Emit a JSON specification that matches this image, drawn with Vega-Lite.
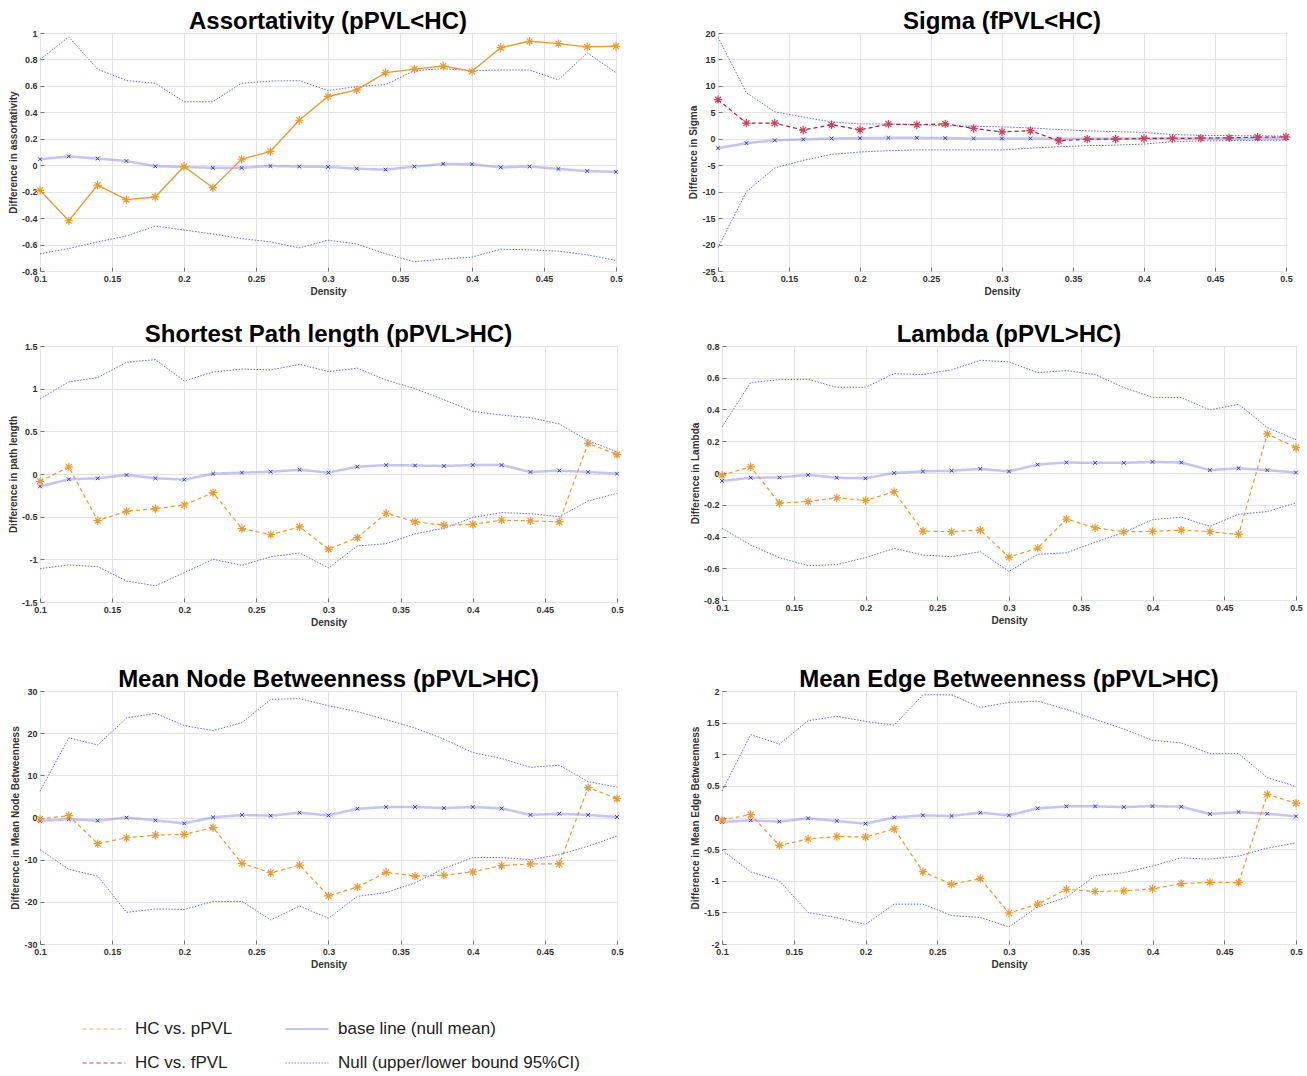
{
"$schema": "https://vega.github.io/schema/vega-lite/v6.json",
"padding": {"left": 7, "top": 9, "right": 5, "bottom": 5},
"background": "white",
"datasets": {"d": [
{"p":"A","d":0.1,"hc":-0.19,"b":0.045,"u":0.8,"l":-0.67},
{"p":"A","d":0.12,"hc":-0.42,"b":0.067,"u":0.97,"l":-0.63},
{"p":"A","d":0.14,"hc":-0.15,"b":0.05,"u":0.727,"l":-0.58},
{"p":"A","d":0.16,"hc":-0.26,"b":0.032,"u":0.64,"l":-0.535},
{"p":"A","d":0.18,"hc":-0.24,"b":-0.008,"u":0.62,"l":-0.46},
{"p":"A","d":0.2,"hc":-0.01,"b":-0.013,"u":0.48,"l":-0.49},
{"p":"A","d":0.22,"hc":-0.17,"b":-0.02,"u":0.48,"l":-0.52},
{"p":"A","d":0.24,"hc":0.045,"b":-0.02,"u":0.62,"l":-0.555},
{"p":"A","d":0.26,"hc":0.105,"b":-0.006,"u":0.636,"l":-0.58},
{"p":"A","d":0.28,"hc":0.34,"b":-0.01,"u":0.64,"l":-0.625},
{"p":"A","d":0.3,"hc":0.52,"b":-0.013,"u":0.565,"l":-0.567},
{"p":"A","d":0.32,"hc":0.57,"b":-0.026,"u":0.595,"l":-0.595},
{"p":"A","d":0.34,"hc":0.7,"b":-0.034,"u":0.61,"l":-0.67},
{"p":"A","d":0.36,"hc":0.727,"b":-0.01,"u":0.715,"l":-0.73},
{"p":"A","d":0.38,"hc":0.75,"b":0.01,"u":0.73,"l":-0.71},
{"p":"A","d":0.4,"hc":0.71,"b":0.007,"u":0.715,"l":-0.695},
{"p":"A","d":0.42,"hc":0.89,"b":-0.016,"u":0.72,"l":-0.635},
{"p":"A","d":0.44,"hc":0.937,"b":-0.01,"u":0.72,"l":-0.64},
{"p":"A","d":0.46,"hc":0.92,"b":-0.028,"u":0.646,"l":-0.65},
{"p":"A","d":0.48,"hc":0.895,"b":-0.044,"u":0.85,"l":-0.678},
{"p":"A","d":0.5,"hc":0.9,"b":-0.05,"u":0.7,"l":-0.72},
{"p":"S","d":0.1,"hc":7.4,"b":-1.77,"u":19.2,"l":-20.6},
{"p":"S","d":0.12,"hc":2.95,"b":-0.83,"u":8.7,"l":-10},
{"p":"S","d":0.14,"hc":2.95,"b":-0.3,"u":5.1,"l":-5.5},
{"p":"S","d":0.16,"hc":1.65,"b":-0.12,"u":4.1,"l":-4.1},
{"p":"S","d":0.18,"hc":2.65,"b":0.06,"u":3.2,"l":-2.95},
{"p":"S","d":0.2,"hc":1.7,"b":0.12,"u":2.8,"l":-2.5},
{"p":"S","d":0.22,"hc":2.77,"b":0.18,"u":2.8,"l":-2.25},
{"p":"S","d":0.24,"hc":2.65,"b":0.18,"u":2.65,"l":-2.1},
{"p":"S","d":0.26,"hc":2.83,"b":0.12,"u":2.5,"l":-2.1},
{"p":"S","d":0.28,"hc":1.95,"b":0.06,"u":2.35,"l":-2.1},
{"p":"S","d":0.3,"hc":1.3,"b":0.06,"u":2.25,"l":-2.1},
{"p":"S","d":0.32,"hc":1.53,"b":0.06,"u":2.05,"l":-1.77},
{"p":"S","d":0.34,"hc":-0.4,"b":0,"u":1.75,"l":-1.5},
{"p":"S","d":0.36,"hc":-0.06,"b":0.05,"u":1.5,"l":-1.3},
{"p":"S","d":0.38,"hc":-0.06,"b":0.05,"u":1.35,"l":-1.2},
{"p":"S","d":0.4,"hc":0.06,"b":0.05,"u":1.2,"l":-1.0},
{"p":"S","d":0.42,"hc":0.06,"b":0.05,"u":0.8,"l":-0.55},
{"p":"S","d":0.44,"hc":0.12,"b":0.05,"u":0.65,"l":-0.4},
{"p":"S","d":0.46,"hc":0.18,"b":0.05,"u":0.6,"l":-0.35},
{"p":"S","d":0.48,"hc":0.3,"b":0.1,"u":0.55,"l":-0.3},
{"p":"S","d":0.5,"hc":0.35,"b":0.1,"u":0.5,"l":-0.25},
{"p":"P","d":0.1,"hc":-0.086,"b":-0.145,"u":0.88,"l":-1.11},
{"p":"P","d":0.12,"hc":0.082,"b":-0.062,"u":1.08,"l":-1.066},
{"p":"P","d":0.14,"hc":-0.547,"b":-0.05,"u":1.13,"l":-1.086},
{"p":"P","d":0.16,"hc":-0.437,"b":-0.012,"u":1.31,"l":-1.254},
{"p":"P","d":0.18,"hc":-0.406,"b":-0.05,"u":1.34,"l":-1.31},
{"p":"P","d":0.2,"hc":-0.363,"b":-0.066,"u":1.09,"l":-1.156},
{"p":"P","d":0.22,"hc":-0.219,"b":0.004,"u":1.195,"l":-1.0},
{"p":"P","d":0.24,"hc":-0.64,"b":0.016,"u":1.23,"l":-1.07},
{"p":"P","d":0.26,"hc":-0.71,"b":0.027,"u":1.22,"l":-0.97},
{"p":"P","d":0.28,"hc":-0.62,"b":0.05,"u":1.285,"l":-0.926},
{"p":"P","d":0.3,"hc":-0.88,"b":0.016,"u":1.2,"l":-1.1},
{"p":"P","d":0.32,"hc":-0.746,"b":0.086,"u":1.24,"l":-0.844},
{"p":"P","d":0.34,"hc":-0.46,"b":0.105,"u":1.1,"l":-0.816},
{"p":"P","d":0.36,"hc":-0.56,"b":0.1,"u":1.0,"l":-0.7},
{"p":"P","d":0.38,"hc":-0.6,"b":0.094,"u":0.87,"l":-0.637},
{"p":"P","d":0.4,"hc":-0.59,"b":0.105,"u":0.734,"l":-0.51},
{"p":"P","d":0.42,"hc":-0.54,"b":0.105,"u":0.69,"l":-0.453},
{"p":"P","d":0.44,"hc":-0.55,"b":0.023,"u":0.66,"l":-0.465},
{"p":"P","d":0.46,"hc":-0.56,"b":0.04,"u":0.586,"l":-0.5},
{"p":"P","d":0.48,"hc":0.36,"b":0.023,"u":0.39,"l":-0.316},
{"p":"P","d":0.5,"hc":0.227,"b":0.004,"u":0.26,"l":-0.227},
{"p":"L","d":0.1,"hc":-0.014,"b":-0.05,"u":0.29,"l":-0.347},
{"p":"L","d":0.12,"hc":0.039,"b":-0.03,"u":0.57,"l":-0.454},
{"p":"L","d":0.14,"hc":-0.19,"b":-0.028,"u":0.588,"l":-0.533},
{"p":"L","d":0.16,"hc":-0.18,"b":-0.012,"u":0.59,"l":-0.584},
{"p":"L","d":0.18,"hc":-0.156,"b":-0.03,"u":0.54,"l":-0.577},
{"p":"L","d":0.2,"hc":-0.173,"b":-0.033,"u":0.54,"l":-0.533},
{"p":"L","d":0.22,"hc":-0.118,"b":0,"u":0.626,"l":-0.475},
{"p":"L","d":0.24,"hc":-0.366,"b":0.01,"u":0.62,"l":-0.517},
{"p":"L","d":0.26,"hc":-0.37,"b":0.014,"u":0.65,"l":-0.527},
{"p":"L","d":0.28,"hc":-0.36,"b":0.026,"u":0.71,"l":-0.496},
{"p":"L","d":0.3,"hc":-0.53,"b":0.01,"u":0.7,"l":-0.62},
{"p":"L","d":0.32,"hc":-0.473,"b":0.053,"u":0.632,"l":-0.512},
{"p":"L","d":0.34,"hc":-0.29,"b":0.066,"u":0.645,"l":-0.503},
{"p":"L","d":0.36,"hc":-0.345,"b":0.064,"u":0.62,"l":-0.437},
{"p":"L","d":0.38,"hc":-0.37,"b":0.064,"u":0.538,"l":-0.374},
{"p":"L","d":0.4,"hc":-0.368,"b":0.07,"u":0.477,"l":-0.294},
{"p":"L","d":0.42,"hc":-0.36,"b":0.066,"u":0.475,"l":-0.278},
{"p":"L","d":0.44,"hc":-0.37,"b":0.018,"u":0.397,"l":-0.336},
{"p":"L","d":0.46,"hc":-0.387,"b":0.03,"u":0.433,"l":-0.26},
{"p":"L","d":0.48,"hc":0.246,"b":0.018,"u":0.286,"l":-0.243},
{"p":"L","d":0.5,"hc":0.16,"b":0.003,"u":0.21,"l":-0.188},
{"p":"N","d":0.1,"hc":-0.35,"b":-0.8,"u":6.2,"l":-7.6},
{"p":"N","d":0.12,"hc":0.43,"b":-0.4,"u":18.9,"l":-12.3},
{"p":"N","d":0.14,"hc":-6.2,"b":-0.75,"u":17.2,"l":-13.9},
{"p":"N","d":0.16,"hc":-4.8,"b":-0.04,"u":23.6,"l":-22.5},
{"p":"N","d":0.18,"hc":-4.2,"b":-0.67,"u":24.7,"l":-21.7},
{"p":"N","d":0.2,"hc":-4.0,"b":-1.4,"u":21.8,"l":-21.8},
{"p":"N","d":0.22,"hc":-2.4,"b":0.04,"u":20.6,"l":-19.9},
{"p":"N","d":0.24,"hc":-10.9,"b":0.6,"u":22.5,"l":-19.9},
{"p":"N","d":0.26,"hc":-13.1,"b":0.43,"u":28.0,"l":-24.3},
{"p":"N","d":0.28,"hc":-11.3,"b":1.14,"u":28.2,"l":-21.0},
{"p":"N","d":0.3,"hc":-18.6,"b":0.5,"u":26.5,"l":-23.9},
{"p":"N","d":0.32,"hc":-16.5,"b":2.08,"u":25.1,"l":-18.7},
{"p":"N","d":0.34,"hc":-13.0,"b":2.48,"u":23.2,"l":-17.8},
{"p":"N","d":0.36,"hc":-13.9,"b":2.48,"u":21.2,"l":-15.5},
{"p":"N","d":0.38,"hc":-13.7,"b":2.24,"u":18.6,"l":-12.1},
{"p":"N","d":0.4,"hc":-12.9,"b":2.48,"u":15.4,"l":-9.5},
{"p":"N","d":0.42,"hc":-11.4,"b":2.16,"u":14.0,"l":-9.5},
{"p":"N","d":0.44,"hc":-11.0,"b":0.6,"u":11.9,"l":-10.0},
{"p":"N","d":0.46,"hc":-11.0,"b":0.9,"u":12.4,"l":-8.8},
{"p":"N","d":0.48,"hc":7.1,"b":0.6,"u":8.5,"l":-6.8},
{"p":"N","d":0.5,"hc":4.5,"b":0.12,"u":7.2,"l":-4.4},
{"p":"E","d":0.1,"hc":-0.04,"b":-0.07,"u":0.42,"l":-0.516},
{"p":"E","d":0.12,"hc":0.045,"b":-0.045,"u":1.31,"l":-0.86},
{"p":"E","d":0.14,"hc":-0.44,"b":-0.065,"u":1.16,"l":-1.0},
{"p":"E","d":0.16,"hc":-0.34,"b":-0.013,"u":1.53,"l":-1.5},
{"p":"E","d":0.18,"hc":-0.3,"b":-0.055,"u":1.6,"l":-1.585},
{"p":"E","d":0.2,"hc":-0.31,"b":-0.097,"u":1.52,"l":-1.69},
{"p":"E","d":0.22,"hc":-0.18,"b":0,"u":1.46,"l":-1.37},
{"p":"E","d":0.24,"hc":-0.857,"b":0.034,"u":1.94,"l":-1.37},
{"p":"E","d":0.26,"hc":-1.056,"b":0.024,"u":1.94,"l":-1.55},
{"p":"E","d":0.28,"hc":-0.967,"b":0.076,"u":1.74,"l":-1.58},
{"p":"E","d":0.3,"hc":-1.51,"b":0.034,"u":1.82,"l":-1.73},
{"p":"E","d":0.32,"hc":-1.37,"b":0.144,"u":1.84,"l":-1.41},
{"p":"E","d":0.34,"hc":-1.135,"b":0.176,"u":1.71,"l":-1.265},
{"p":"E","d":0.36,"hc":-1.17,"b":0.176,"u":1.55,"l":-0.92},
{"p":"E","d":0.38,"hc":-1.16,"b":0.165,"u":1.4,"l":-0.873},
{"p":"E","d":0.4,"hc":-1.13,"b":0.18,"u":1.22,"l":-0.768},
{"p":"E","d":0.42,"hc":-1.045,"b":0.17,"u":1.18,"l":-0.637},
{"p":"E","d":0.44,"hc":-1.025,"b":0.055,"u":1.01,"l":-0.658},
{"p":"E","d":0.46,"hc":-1.03,"b":0.086,"u":1.01,"l":-0.61},
{"p":"E","d":0.48,"hc":0.364,"b":0.06,"u":0.63,"l":-0.485},
{"p":"E","d":0.5,"hc":0.228,"b":0.018,"u":0.49,"l":-0.4}
]},
"vconcat": [
{"vconcat": [
{"hconcat": [
{"title": {"text": "Assortativity (pPVL<HC)", "offset": -5},
 "width": 576, "height": 238,
 "data": {"name": "d"}, "transform": [{"filter": "datum.p == 'A'"}],
 "encoding": {"x": {"field": "d", "type": "quantitative", "scale": {"domain": [0.1, 0.5], "nice": false}, "axis": {"title": "Density", "values": [0.1,0.15,0.2,0.25,0.3,0.35,0.4,0.45,0.5], "format": ".2~f", "labelOverlap": false, "tickCount": 30}}},
 "layer": [
  {"mark": {"type": "line", "strokeWidth": 1}, "encoding": {
    "y": {"field": "u", "type": "quantitative", "scale": {"domain": [-0.8, 1], "nice": false}, "axis": {"title": "Difference in assortativity", "values": [-0.8,-0.6,-0.4,-0.2,0,0.2,0.4,0.6,0.8,1], "format": ".2~f", "labelOverlap": false, "tickCount": 30}},
    "color": {"datum": "Null (upper/lower bound 95%CI)", "scale": {"domain": ["HC vs. pPVL","base line (null mean)","HC vs. fPVL","Null (upper/lower bound 95%CI)"], "range": ["#EE9A2E","#6B6BF2","#A3223E","#6B6BF2"]}, "legend": {"orient": "none", "direction": "horizontal", "legendX": 41, "legendY": 973, "columns": 2, "columnPadding": 48, "rowPadding": 3, "symbolOpacity": 1, "labelLimit": 0, "title": null}},
    "strokeDash": {"datum": "Null (upper/lower bound 95%CI)", "scale": {"domain": ["HC vs. pPVL","base line (null mean)","HC vs. fPVL","Null (upper/lower bound 95%CI)"], "range": [[4,3],[1,0],[4,3],[1.5,1.5]]}, "legend": {"orient": "none", "direction": "horizontal", "legendX": 41, "legendY": 973, "columns": 2, "columnPadding": 48, "rowPadding": 3, "symbolOpacity": 1, "labelLimit": 0, "title": null}}}},
  {"mark": {"type": "line", "strokeWidth": 1}, "encoding": {"y": {"field": "l", "type": "quantitative"},
    "color": {"datum": "Null (upper/lower bound 95%CI)", "scale": {"domain": ["HC vs. pPVL","base line (null mean)","HC vs. fPVL","Null (upper/lower bound 95%CI)"], "range": ["#EE9A2E","#6B6BF2","#A3223E","#6B6BF2"]}},
    "strokeDash": {"datum": "Null (upper/lower bound 95%CI)", "scale": {"domain": ["HC vs. pPVL","base line (null mean)","HC vs. fPVL","Null (upper/lower bound 95%CI)"], "range": [[4,3],[1,0],[4,3],[1.5,1.5]]}}}},
  {"mark": {"type": "line", "strokeWidth": 2.5, "opacity": 0.4}, "encoding": {"y": {"field": "b", "type": "quantitative"},
    "color": {"datum": "base line (null mean)", "scale": {"domain": ["HC vs. pPVL","base line (null mean)","HC vs. fPVL","Null (upper/lower bound 95%CI)"], "range": ["#EE9A2E","#6B6BF2","#A3223E","#6B6BF2"]}},
    "strokeDash": {"datum": "base line (null mean)", "scale": {"domain": ["HC vs. pPVL","base line (null mean)","HC vs. fPVL","Null (upper/lower bound 95%CI)"], "range": [[4,3],[1,0],[4,3],[1.5,1.5]]}}}},
  {"mark": {"type": "point", "shape": "M-1,-1L1,1M-1,1L1,-1", "filled": false, "size": 14, "strokeWidth": 1, "color": "#3A3AD0", "opacity": 1}, "encoding": {"y": {"field": "b", "type": "quantitative"}}},
  {"mark": {"type": "line", "strokeWidth": 1.4}, "encoding": {"y": {"field": "hc", "type": "quantitative"},
    "color": {"datum": "HC vs. pPVL", "scale": {"domain": ["HC vs. pPVL","base line (null mean)","HC vs. fPVL","Null (upper/lower bound 95%CI)"], "range": ["#EE9A2E","#6B6BF2","#A3223E","#6B6BF2"]}}}},
  {"mark": {"type": "point", "shape": "M-1,0L1,0M0,-1L0,1M-0.7,-0.7L0.7,0.7M-0.7,0.7L0.7,-0.7", "filled": false, "size": 70, "strokeWidth": 1.2, "color": "#EE9A2E", "opacity": 1}, "encoding": {"y": {"field": "hc", "type": "quantitative"}}}
 ]},
{"title": {"text": "Sigma (fPVL<HC)", "offset": -5},
 "width": 568, "height": 238,
 "data": {"name": "d"}, "transform": [{"filter": "datum.p == 'S'"}],
 "encoding": {"x": {"field": "d", "type": "quantitative", "scale": {"domain": [0.1, 0.5], "nice": false}, "axis": {"title": "Density", "values": [0.1,0.15,0.2,0.25,0.3,0.35,0.4,0.45,0.5], "format": ".2~f", "labelOverlap": false, "tickCount": 30}}},
 "layer": [
  {"mark": {"type": "line", "strokeWidth": 1}, "encoding": {
    "y": {"field": "u", "type": "quantitative", "scale": {"domain": [-25, 20], "nice": false}, "axis": {"title": "Difference in Sigma", "values": [-25,-20,-15,-10,-5,0,5,10,15,20], "format": ".2~f", "labelOverlap": false, "tickCount": 30}},
    "color": {"datum": "Null (upper/lower bound 95%CI)", "scale": {"domain": ["HC vs. pPVL","base line (null mean)","HC vs. fPVL","Null (upper/lower bound 95%CI)"], "range": ["#EE9A2E","#6B6BF2","#A3223E","#6B6BF2"]}},
    "strokeDash": {"datum": "Null (upper/lower bound 95%CI)", "scale": {"domain": ["HC vs. pPVL","base line (null mean)","HC vs. fPVL","Null (upper/lower bound 95%CI)"], "range": [[4,3],[1,0],[4,3],[1.5,1.5]]}}}},
  {"mark": {"type": "line", "strokeWidth": 1}, "encoding": {"y": {"field": "l", "type": "quantitative"},
    "color": {"datum": "Null (upper/lower bound 95%CI)", "scale": {"domain": ["HC vs. pPVL","base line (null mean)","HC vs. fPVL","Null (upper/lower bound 95%CI)"], "range": ["#EE9A2E","#6B6BF2","#A3223E","#6B6BF2"]}},
    "strokeDash": {"datum": "Null (upper/lower bound 95%CI)", "scale": {"domain": ["HC vs. pPVL","base line (null mean)","HC vs. fPVL","Null (upper/lower bound 95%CI)"], "range": [[4,3],[1,0],[4,3],[1.5,1.5]]}}}},
  {"mark": {"type": "line", "strokeWidth": 2.5, "opacity": 0.4}, "encoding": {"y": {"field": "b", "type": "quantitative"},
    "color": {"datum": "base line (null mean)", "scale": {"domain": ["HC vs. pPVL","base line (null mean)","HC vs. fPVL","Null (upper/lower bound 95%CI)"], "range": ["#EE9A2E","#6B6BF2","#A3223E","#6B6BF2"]}},
    "strokeDash": {"datum": "base line (null mean)", "scale": {"domain": ["HC vs. pPVL","base line (null mean)","HC vs. fPVL","Null (upper/lower bound 95%CI)"], "range": [[4,3],[1,0],[4,3],[1.5,1.5]]}}}},
  {"mark": {"type": "point", "shape": "M-1,-1L1,1M-1,1L1,-1", "filled": false, "size": 14, "strokeWidth": 1, "color": "#3A3AD0", "opacity": 1}, "encoding": {"y": {"field": "b", "type": "quantitative"}}},
  {"mark": {"type": "line", "strokeWidth": 1.2}, "encoding": {"y": {"field": "hc", "type": "quantitative"},
    "color": {"datum": "HC vs. fPVL", "scale": {"domain": ["HC vs. pPVL","base line (null mean)","HC vs. fPVL","Null (upper/lower bound 95%CI)"], "range": ["#EE9A2E","#6B6BF2","#A3223E","#6B6BF2"]}},
    "strokeDash": {"datum": "HC vs. fPVL", "scale": {"domain": ["HC vs. pPVL","base line (null mean)","HC vs. fPVL","Null (upper/lower bound 95%CI)"], "range": [[4,3],[1,0],[4,3],[1.5,1.5]]}}}},
  {"mark": {"type": "point", "shape": "M-1,0L1,0M0,-1L0,1M-0.7,-0.7L0.7,0.7M-0.7,0.7L0.7,-0.7", "filled": false, "size": 70, "strokeWidth": 1.2, "color": "#D0405A", "opacity": 1}, "encoding": {"y": {"field": "hc", "type": "quantitative"}}}
 ]}
], "spacing": 64},
{"hconcat": [
{"title": {"text": "Shortest Path length (pPVL>HC)", "offset": -5},
 "width": 577, "height": 256,
 "data": {"name": "d"}, "transform": [{"filter": "datum.p == 'P'"}],
 "encoding": {"x": {"field": "d", "type": "quantitative", "scale": {"domain": [0.1, 0.5], "nice": false}, "axis": {"title": "Density", "values": [0.1,0.15,0.2,0.25,0.3,0.35,0.4,0.45,0.5], "format": ".2~f", "labelOverlap": false, "tickCount": 30}}},
 "layer": [
  {"mark": {"type": "line", "strokeWidth": 1}, "encoding": {
    "y": {"field": "u", "type": "quantitative", "scale": {"domain": [-1.5, 1.5], "nice": false}, "axis": {"title": "Difference in path length", "values": [-1.5,-1,-0.5,0,0.5,1,1.5], "format": ".2~f", "labelOverlap": false, "tickCount": 30}},
    "color": {"datum": "Null (upper/lower bound 95%CI)", "scale": {"domain": ["HC vs. pPVL","base line (null mean)","HC vs. fPVL","Null (upper/lower bound 95%CI)"], "range": ["#EE9A2E","#6B6BF2","#A3223E","#6B6BF2"]}},
    "strokeDash": {"datum": "Null (upper/lower bound 95%CI)", "scale": {"domain": ["HC vs. pPVL","base line (null mean)","HC vs. fPVL","Null (upper/lower bound 95%CI)"], "range": [[4,3],[1,0],[4,3],[1.5,1.5]]}}}},
  {"mark": {"type": "line", "strokeWidth": 1}, "encoding": {"y": {"field": "l", "type": "quantitative"},
    "color": {"datum": "Null (upper/lower bound 95%CI)", "scale": {"domain": ["HC vs. pPVL","base line (null mean)","HC vs. fPVL","Null (upper/lower bound 95%CI)"], "range": ["#EE9A2E","#6B6BF2","#A3223E","#6B6BF2"]}},
    "strokeDash": {"datum": "Null (upper/lower bound 95%CI)", "scale": {"domain": ["HC vs. pPVL","base line (null mean)","HC vs. fPVL","Null (upper/lower bound 95%CI)"], "range": [[4,3],[1,0],[4,3],[1.5,1.5]]}}}},
  {"mark": {"type": "line", "strokeWidth": 2.5, "opacity": 0.4}, "encoding": {"y": {"field": "b", "type": "quantitative"},
    "color": {"datum": "base line (null mean)", "scale": {"domain": ["HC vs. pPVL","base line (null mean)","HC vs. fPVL","Null (upper/lower bound 95%CI)"], "range": ["#EE9A2E","#6B6BF2","#A3223E","#6B6BF2"]}},
    "strokeDash": {"datum": "base line (null mean)", "scale": {"domain": ["HC vs. pPVL","base line (null mean)","HC vs. fPVL","Null (upper/lower bound 95%CI)"], "range": [[4,3],[1,0],[4,3],[1.5,1.5]]}}}},
  {"mark": {"type": "point", "shape": "M-1,-1L1,1M-1,1L1,-1", "filled": false, "size": 14, "strokeWidth": 1, "color": "#3A3AD0", "opacity": 1}, "encoding": {"y": {"field": "b", "type": "quantitative"}}},
  {"mark": {"type": "line", "strokeWidth": 1.2}, "encoding": {"y": {"field": "hc", "type": "quantitative"},
    "color": {"datum": "HC vs. pPVL", "scale": {"domain": ["HC vs. pPVL","base line (null mean)","HC vs. fPVL","Null (upper/lower bound 95%CI)"], "range": ["#EE9A2E","#6B6BF2","#A3223E","#6B6BF2"]}},
    "strokeDash": {"datum": "HC vs. pPVL", "scale": {"domain": ["HC vs. pPVL","base line (null mean)","HC vs. fPVL","Null (upper/lower bound 95%CI)"], "range": [[4,3],[1,0],[4,3],[1.5,1.5]]}}}},
  {"mark": {"type": "point", "shape": "M-1,0L1,0M0,-1L0,1M-0.7,-0.7L0.7,0.7M-0.7,0.7L0.7,-0.7", "filled": false, "size": 70, "strokeWidth": 1.2, "color": "#EE9A2E", "opacity": 1}, "encoding": {"y": {"field": "hc", "type": "quantitative"}}}
 ]},
{"title": {"text": "Lambda (pPVL>HC)", "offset": -5},
 "width": 574, "height": 254,
 "data": {"name": "d"}, "transform": [{"filter": "datum.p == 'L'"}],
 "encoding": {"x": {"field": "d", "type": "quantitative", "scale": {"domain": [0.1, 0.5], "nice": false}, "axis": {"title": "Density", "values": [0.1,0.15,0.2,0.25,0.3,0.35,0.4,0.45,0.5], "format": ".2~f", "labelOverlap": false, "tickCount": 30}}},
 "layer": [
  {"mark": {"type": "line", "strokeWidth": 1}, "encoding": {
    "y": {"field": "u", "type": "quantitative", "scale": {"domain": [-0.8, 0.8], "nice": false}, "axis": {"title": "Difference in Lambda", "values": [-0.8,-0.6,-0.4,-0.2,0,0.2,0.4,0.6,0.8], "format": ".2~f", "labelOverlap": false, "tickCount": 30}},
    "color": {"datum": "Null (upper/lower bound 95%CI)", "scale": {"domain": ["HC vs. pPVL","base line (null mean)","HC vs. fPVL","Null (upper/lower bound 95%CI)"], "range": ["#EE9A2E","#6B6BF2","#A3223E","#6B6BF2"]}},
    "strokeDash": {"datum": "Null (upper/lower bound 95%CI)", "scale": {"domain": ["HC vs. pPVL","base line (null mean)","HC vs. fPVL","Null (upper/lower bound 95%CI)"], "range": [[4,3],[1,0],[4,3],[1.5,1.5]]}}}},
  {"mark": {"type": "line", "strokeWidth": 1}, "encoding": {"y": {"field": "l", "type": "quantitative"},
    "color": {"datum": "Null (upper/lower bound 95%CI)", "scale": {"domain": ["HC vs. pPVL","base line (null mean)","HC vs. fPVL","Null (upper/lower bound 95%CI)"], "range": ["#EE9A2E","#6B6BF2","#A3223E","#6B6BF2"]}},
    "strokeDash": {"datum": "Null (upper/lower bound 95%CI)", "scale": {"domain": ["HC vs. pPVL","base line (null mean)","HC vs. fPVL","Null (upper/lower bound 95%CI)"], "range": [[4,3],[1,0],[4,3],[1.5,1.5]]}}}},
  {"mark": {"type": "line", "strokeWidth": 2.5, "opacity": 0.4}, "encoding": {"y": {"field": "b", "type": "quantitative"},
    "color": {"datum": "base line (null mean)", "scale": {"domain": ["HC vs. pPVL","base line (null mean)","HC vs. fPVL","Null (upper/lower bound 95%CI)"], "range": ["#EE9A2E","#6B6BF2","#A3223E","#6B6BF2"]}},
    "strokeDash": {"datum": "base line (null mean)", "scale": {"domain": ["HC vs. pPVL","base line (null mean)","HC vs. fPVL","Null (upper/lower bound 95%CI)"], "range": [[4,3],[1,0],[4,3],[1.5,1.5]]}}}},
  {"mark": {"type": "point", "shape": "M-1,-1L1,1M-1,1L1,-1", "filled": false, "size": 14, "strokeWidth": 1, "color": "#3A3AD0", "opacity": 1}, "encoding": {"y": {"field": "b", "type": "quantitative"}}},
  {"mark": {"type": "line", "strokeWidth": 1.2}, "encoding": {"y": {"field": "hc", "type": "quantitative"},
    "color": {"datum": "HC vs. pPVL", "scale": {"domain": ["HC vs. pPVL","base line (null mean)","HC vs. fPVL","Null (upper/lower bound 95%CI)"], "range": ["#EE9A2E","#6B6BF2","#A3223E","#6B6BF2"]}},
    "strokeDash": {"datum": "HC vs. pPVL", "scale": {"domain": ["HC vs. pPVL","base line (null mean)","HC vs. fPVL","Null (upper/lower bound 95%CI)"], "range": [[4,3],[1,0],[4,3],[1.5,1.5]]}}}},
  {"mark": {"type": "point", "shape": "M-1,0L1,0M0,-1L0,1M-0.7,-0.7L0.7,0.7M-0.7,0.7L0.7,-0.7", "filled": false, "size": 70, "strokeWidth": 1.2, "color": "#EE9A2E", "opacity": 1}, "encoding": {"y": {"field": "hc", "type": "quantitative"}}}
 ]}
], "spacing": 64}
], "spacing": 25},
{"hconcat": [
{"title": {"text": "Mean Node Betweenness (pPVL>HC)", "offset": -5},
 "width": 577, "height": 253,
 "data": {"name": "d"}, "transform": [{"filter": "datum.p == 'N'"}],
 "encoding": {"x": {"field": "d", "type": "quantitative", "scale": {"domain": [0.1, 0.5], "nice": false}, "axis": {"title": "Density", "values": [0.1,0.15,0.2,0.25,0.3,0.35,0.4,0.45,0.5], "format": ".2~f", "labelOverlap": false, "tickCount": 30}}},
 "layer": [
  {"mark": {"type": "line", "strokeWidth": 1}, "encoding": {
    "y": {"field": "u", "type": "quantitative", "scale": {"domain": [-30, 30], "nice": false}, "axis": {"title": "Difference in Mean Node Betweenness", "values": [-30,-20,-10,0,10,20,30], "format": ".2~f", "labelOverlap": false, "tickCount": 30}},
    "color": {"datum": "Null (upper/lower bound 95%CI)", "scale": {"domain": ["HC vs. pPVL","base line (null mean)","HC vs. fPVL","Null (upper/lower bound 95%CI)"], "range": ["#EE9A2E","#6B6BF2","#A3223E","#6B6BF2"]}},
    "strokeDash": {"datum": "Null (upper/lower bound 95%CI)", "scale": {"domain": ["HC vs. pPVL","base line (null mean)","HC vs. fPVL","Null (upper/lower bound 95%CI)"], "range": [[4,3],[1,0],[4,3],[1.5,1.5]]}}}},
  {"mark": {"type": "line", "strokeWidth": 1}, "encoding": {"y": {"field": "l", "type": "quantitative"},
    "color": {"datum": "Null (upper/lower bound 95%CI)", "scale": {"domain": ["HC vs. pPVL","base line (null mean)","HC vs. fPVL","Null (upper/lower bound 95%CI)"], "range": ["#EE9A2E","#6B6BF2","#A3223E","#6B6BF2"]}},
    "strokeDash": {"datum": "Null (upper/lower bound 95%CI)", "scale": {"domain": ["HC vs. pPVL","base line (null mean)","HC vs. fPVL","Null (upper/lower bound 95%CI)"], "range": [[4,3],[1,0],[4,3],[1.5,1.5]]}}}},
  {"mark": {"type": "line", "strokeWidth": 2.5, "opacity": 0.4}, "encoding": {"y": {"field": "b", "type": "quantitative"},
    "color": {"datum": "base line (null mean)", "scale": {"domain": ["HC vs. pPVL","base line (null mean)","HC vs. fPVL","Null (upper/lower bound 95%CI)"], "range": ["#EE9A2E","#6B6BF2","#A3223E","#6B6BF2"]}},
    "strokeDash": {"datum": "base line (null mean)", "scale": {"domain": ["HC vs. pPVL","base line (null mean)","HC vs. fPVL","Null (upper/lower bound 95%CI)"], "range": [[4,3],[1,0],[4,3],[1.5,1.5]]}}}},
  {"mark": {"type": "point", "shape": "M-1,-1L1,1M-1,1L1,-1", "filled": false, "size": 14, "strokeWidth": 1, "color": "#3A3AD0", "opacity": 1}, "encoding": {"y": {"field": "b", "type": "quantitative"}}},
  {"mark": {"type": "line", "strokeWidth": 1.2}, "encoding": {"y": {"field": "hc", "type": "quantitative"},
    "color": {"datum": "HC vs. pPVL", "scale": {"domain": ["HC vs. pPVL","base line (null mean)","HC vs. fPVL","Null (upper/lower bound 95%CI)"], "range": ["#EE9A2E","#6B6BF2","#A3223E","#6B6BF2"]}},
    "strokeDash": {"datum": "HC vs. pPVL", "scale": {"domain": ["HC vs. pPVL","base line (null mean)","HC vs. fPVL","Null (upper/lower bound 95%CI)"], "range": [[4,3],[1,0],[4,3],[1.5,1.5]]}}}},
  {"mark": {"type": "point", "shape": "M-1,0L1,0M0,-1L0,1M-0.7,-0.7L0.7,0.7M-0.7,0.7L0.7,-0.7", "filled": false, "size": 70, "strokeWidth": 1.2, "color": "#EE9A2E", "opacity": 1}, "encoding": {"y": {"field": "hc", "type": "quantitative"}}}
 ]},
{"title": {"text": "Mean Edge Betweenness (pPVL>HC)", "offset": -5},
 "width": 574, "height": 253,
 "data": {"name": "d"}, "transform": [{"filter": "datum.p == 'E'"}],
 "encoding": {"x": {"field": "d", "type": "quantitative", "scale": {"domain": [0.1, 0.5], "nice": false}, "axis": {"title": "Density", "values": [0.1,0.15,0.2,0.25,0.3,0.35,0.4,0.45,0.5], "format": ".2~f", "labelOverlap": false, "tickCount": 30}}},
 "layer": [
  {"mark": {"type": "line", "strokeWidth": 1}, "encoding": {
    "y": {"field": "u", "type": "quantitative", "scale": {"domain": [-2, 2], "nice": false}, "axis": {"title": "Difference in Mean Edge Betweenness", "values": [-2,-1.5,-1,-0.5,0,0.5,1,1.5,2], "format": ".2~f", "labelOverlap": false, "tickCount": 30}},
    "color": {"datum": "Null (upper/lower bound 95%CI)", "scale": {"domain": ["HC vs. pPVL","base line (null mean)","HC vs. fPVL","Null (upper/lower bound 95%CI)"], "range": ["#EE9A2E","#6B6BF2","#A3223E","#6B6BF2"]}},
    "strokeDash": {"datum": "Null (upper/lower bound 95%CI)", "scale": {"domain": ["HC vs. pPVL","base line (null mean)","HC vs. fPVL","Null (upper/lower bound 95%CI)"], "range": [[4,3],[1,0],[4,3],[1.5,1.5]]}}}},
  {"mark": {"type": "line", "strokeWidth": 1}, "encoding": {"y": {"field": "l", "type": "quantitative"},
    "color": {"datum": "Null (upper/lower bound 95%CI)", "scale": {"domain": ["HC vs. pPVL","base line (null mean)","HC vs. fPVL","Null (upper/lower bound 95%CI)"], "range": ["#EE9A2E","#6B6BF2","#A3223E","#6B6BF2"]}},
    "strokeDash": {"datum": "Null (upper/lower bound 95%CI)", "scale": {"domain": ["HC vs. pPVL","base line (null mean)","HC vs. fPVL","Null (upper/lower bound 95%CI)"], "range": [[4,3],[1,0],[4,3],[1.5,1.5]]}}}},
  {"mark": {"type": "line", "strokeWidth": 2.5, "opacity": 0.4}, "encoding": {"y": {"field": "b", "type": "quantitative"},
    "color": {"datum": "base line (null mean)", "scale": {"domain": ["HC vs. pPVL","base line (null mean)","HC vs. fPVL","Null (upper/lower bound 95%CI)"], "range": ["#EE9A2E","#6B6BF2","#A3223E","#6B6BF2"]}},
    "strokeDash": {"datum": "base line (null mean)", "scale": {"domain": ["HC vs. pPVL","base line (null mean)","HC vs. fPVL","Null (upper/lower bound 95%CI)"], "range": [[4,3],[1,0],[4,3],[1.5,1.5]]}}}},
  {"mark": {"type": "point", "shape": "M-1,-1L1,1M-1,1L1,-1", "filled": false, "size": 14, "strokeWidth": 1, "color": "#3A3AD0", "opacity": 1}, "encoding": {"y": {"field": "b", "type": "quantitative"}}},
  {"mark": {"type": "line", "strokeWidth": 1.2}, "encoding": {"y": {"field": "hc", "type": "quantitative"},
    "color": {"datum": "HC vs. pPVL", "scale": {"domain": ["HC vs. pPVL","base line (null mean)","HC vs. fPVL","Null (upper/lower bound 95%CI)"], "range": ["#EE9A2E","#6B6BF2","#A3223E","#6B6BF2"]}},
    "strokeDash": {"datum": "HC vs. pPVL", "scale": {"domain": ["HC vs. pPVL","base line (null mean)","HC vs. fPVL","Null (upper/lower bound 95%CI)"], "range": [[4,3],[1,0],[4,3],[1.5,1.5]]}}}},
  {"mark": {"type": "point", "shape": "M-1,0L1,0M0,-1L0,1M-0.7,-0.7L0.7,0.7M-0.7,0.7L0.7,-0.7", "filled": false, "size": 70, "strokeWidth": 1.2, "color": "#EE9A2E", "opacity": 1}, "encoding": {"y": {"field": "hc", "type": "quantitative"}}}
 ]}
], "spacing": 64}
], "spacing": 39,
"config": {
  "font": "Liberation Sans",
  "view": {"stroke": "#A0A0A0", "strokeWidth": 1},
  "axis": {"labelFont": "Liberation Sans", "labelFontSize": 9, "labelFontWeight": "bold", "labelColor": "#333333", "titleFont": "Liberation Sans", "titleFontSize": 10, "titleFontWeight": "bold", "titleColor": "#333333", "domain": false, "grid": true, "gridColor": "#E4E4E4", "ticks": true, "tickSize": -4, "tickColor": "#777777", "labelPadding": 7, "titlePadding": 3, "labelFlush": false, "labelOverlap": false},
  "title": {"font": "Liberation Sans", "fontSize": 24, "fontWeight": "bold", "color": "#000000"},
  "legend": {"labelFont": "Liberation Sans", "labelFontSize": 17, "labelColor": "#222222", "symbolStrokeWidth": 2, "symbolSize": 1850, "symbolType": "stroke", "labelOffset": 8, "padding": 0},
  "locale": {"number": {"decimal": ".", "thousands": ",", "grouping": [3], "currency": ["$", ""], "minus": "-"}}
}
}
